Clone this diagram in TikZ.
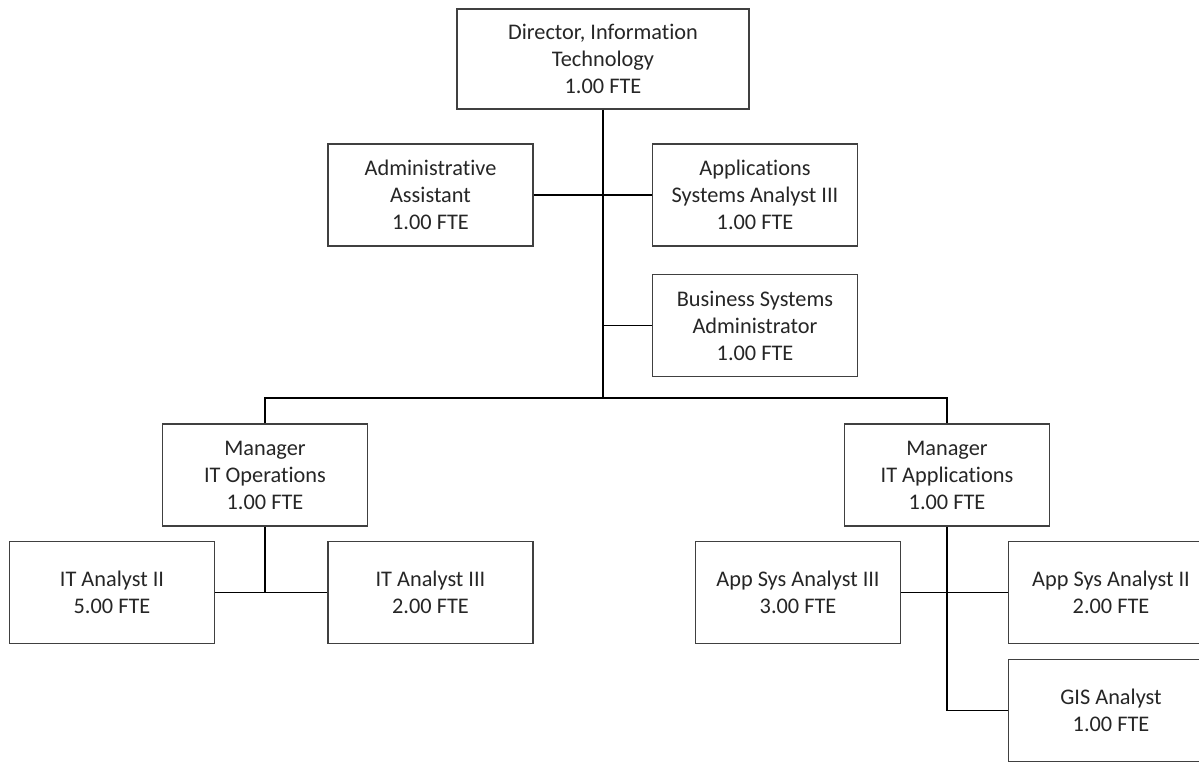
\documentclass[tikz,border=0pt]{standalone}
\usepackage{fontspec}
\setmainfont[Ligatures=CommonOff]{Carlito}
\begin{document}
\begin{tikzpicture}[x=0.2mm,y=-0.2mm,
        post/.style={draw=black!75,line width=0.8pt,fill=white,minimum width=41mm,minimum height=20.4mm,
            align=center,text=black!85,font=\fontsize{12.7}{15.4}\selectfont,inner sep=0pt},
        link/.style={black,line width=1.1pt}]
        \clip (0,0) rectangle (1199,762);
        \fill[white] (0,0) rectangle (1199,762);
        % top of the chart
        \node[post,minimum width=58.4mm,minimum height=20mm] (dir) at (603,59) {Director, Information\\Technology\\1.00 FTE};
        \node[post] (admin) at (430.5,195) {Administrative\\Assistant\\1.00 FTE};
        \node[post] (app) at (755,195) {Applications\\Systems Analyst III\\1.00 FTE};
        \node[post] (biz) at (755,325.5) {Business Systems\\Administrator\\1.00 FTE};
        \coordinate (hub) at (603,398);
        \draw[link] (dir.south) -- (hub);
        \draw[link] (admin.east) -- (app.west);
        \draw[link] (dir.south |- biz.west) -- (biz.west);
        % managers
        \node[post] (ops) at (265,475) {Manager\\IT Operations\\1.00 FTE};
        \node[post] (apps) at (947,475) {Manager\\IT Applications\\1.00 FTE};
        \draw[link] (ops.north) |- (hub) -| (apps.north);
        % operations staff
        \node[post] (ita2) at (112,592.5) {IT Analyst II\\5.00 FTE};
        \node[post] (ita3) at (430.5,592.5) {IT Analyst III\\2.00 FTE};
        \draw[link] (ops.south) -- (ops.south |- ita2.east);
        \draw[link] (ita2.east) -- (ita3.west);
        % applications staff
        \node[post] (asa3) at (798,592.5) {App Sys Analyst III\\3.00 FTE};
        \node[post] (asa2) at (1111,592.5) {App Sys Analyst II\\2.00 FTE};
        \node[post] (gis) at (1111,710.5) {GIS Analyst\\1.00 FTE};
        \draw[link] (asa3.east) -- (asa2.west);
        \draw[link] (apps.south) |- (gis.west);
\end{tikzpicture}
\end{document}
